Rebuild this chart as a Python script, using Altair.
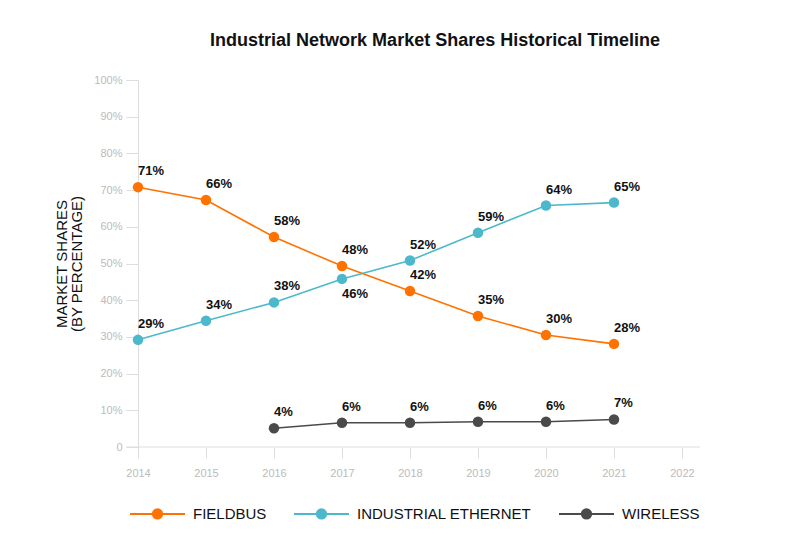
import altair as alt
import pandas as pd

# ---- data ----
series = ["FIELDBUS", "INDUSTRIAL ETHERNET", "WIRELESS"]
colors = ["#FF7200", "#4DB8CC", "#4A4A4A"]

years_main = [2014, 2015, 2016, 2017, 2018, 2019, 2020, 2021]
fieldbus = [70.8, 67.3, 57.2, 49.3, 42.5, 35.7, 30.5, 28.1]
fieldbus_labels = ["71%", "66%", "58%", "48%", "42%", "35%", "30%", "28%"]
ethernet = [29.2, 34.4, 39.4, 45.8, 50.8, 58.4, 65.8, 66.6]
ethernet_labels = ["29%", "34%", "38%", "46%", "52%", "59%", "64%", "65%"]
years_wireless = [2016, 2017, 2018, 2019, 2020, 2021]
wireless = [5.1, 6.6, 6.6, 6.9, 6.9, 7.5]
wireless_labels = ["4%", "6%", "6%", "6%", "6%", "7%"]

x_ticks = [2014, 2015, 2016, 2017, 2018, 2019, 2020, 2021, 2022]
y_ticks = [0, 10, 20, 30, 40, 50, 60, 70, 80, 90, 100]
labels_below = [("INDUSTRIAL ETHERNET", 2017)]

rows = []
for name, yrs, vals, labs in [
    (series[0], years_main, fieldbus, fieldbus_labels),
    (series[1], years_main, ethernet, ethernet_labels),
    (series[2], years_wireless, wireless, wireless_labels),
]:
    for yr, v, lab in zip(yrs, vals, labs):
        rows.append({"series": name, "year": yr, "value": v, "label": lab,
                     "below": (name, yr) in labels_below})
df = pd.DataFrame(rows)

FONT = "Liberation Sans"
W, H = 562, 367

sym_path = ("M-1,0L1,0M-0.17,0A0.17,0.17,0,1,1,0.17,0"
            "A0.17,0.17,0,1,1,-0.17,0Z")
legend = alt.Legend(
    title=None, orient="none", legendX=-9, legendY=405, direction="horizontal",
    symbolType=sym_path, symbolSize=3025, symbolStrokeWidth=2,
    symbolOpacity=1, labelFont=FONT, labelFontSize=15, labelColor="#111111",
    labelOffset=7, columnPadding=23, labelLimit=300,
)
stroke_scale = alt.Scale(domain=series, range=colors)

x_enc = alt.X(
    "year:Q",
    scale=alt.Scale(domain=[2014, 2022.265], nice=False, zero=False),
    axis=alt.Axis(values=x_ticks, format="d", domain=False, grid=False,
                  tickSize=11, tickColor="#dddddd", labelColor="#bbbbbb",
                  labelFontSize=11, labelFont=FONT, labelPadding=9,
                  labelFlush=False, labelOverlap=False, title=None),
)
y_enc = alt.Y(
    "value:Q",
    scale=alt.Scale(domain=[0, 100], nice=False),
    axis=alt.Axis(values=y_ticks, grid=False, domain=True, domainColor="#dddddd",
                  tickSize=12, tickColor="#dddddd", labelColor="#bbbbbb",
                  labelFontSize=11, labelFont=FONT, labelPadding=4,
                  labelFlush=False, labelOverlap=False,
                  labelExpr="datum.value == 0 ? '0' : datum.value + '%'",
                  title=["MARKET SHARES", "(BY PERCENTAGE)"], titleFont=FONT,
                  titleFontSize=15, titleFontWeight="normal", titleColor="#111111",
                  titlePadding=9, titleLineHeight=15),
)

base = alt.Chart(df)

axis_line = alt.Chart(pd.DataFrame({"a": [0]})).mark_rule(
    color="#dddddd", strokeWidth=1
).encode(x=alt.value(-12), x2=alt.value(W), y=alt.value(H))

lines = base.mark_line(strokeWidth=1.6).encode(
    x=x_enc, y=y_enc,
    stroke=alt.Stroke("series:N", scale=stroke_scale, legend=legend),
)
points = base.mark_circle(size=110, opacity=1, strokeWidth=0).encode(
    x=x_enc, y=y_enc,
    fill=alt.Fill("series:N", scale=stroke_scale, legend=legend),
    stroke=alt.Stroke("series:N", scale=stroke_scale, legend=legend),
)
text_above = base.transform_filter("!datum.below").mark_text(
    align="left", baseline="middle", dy=-16, fontSize=13, font=FONT,
    color="#111111", fontWeight="bold",
).encode(x=x_enc, y=y_enc, text="label:N")
text_below = base.transform_filter("datum.below").mark_text(
    align="left", baseline="middle", dy=15, fontSize=13, font=FONT,
    color="#111111", fontWeight="bold",
).encode(x=x_enc, y=y_enc, text="label:N")

chart = alt.layer(axis_line, lines, points, text_above, text_below).properties(
    width=W, height=H,
    padding={"left": 138, "top": 80, "right": 100, "bottom": 103},
    autosize="none",
    title=alt.Title("Industrial Network Market Shares Historical Timeline",
                    font=FONT, fontSize=18, fontWeight="bold", color="#111111",
                    anchor="middle", dx=16, offset=24),
).configure_view(stroke=None)

chart.save("out.html", embed_options={"renderer": "svg", "actions": False})
